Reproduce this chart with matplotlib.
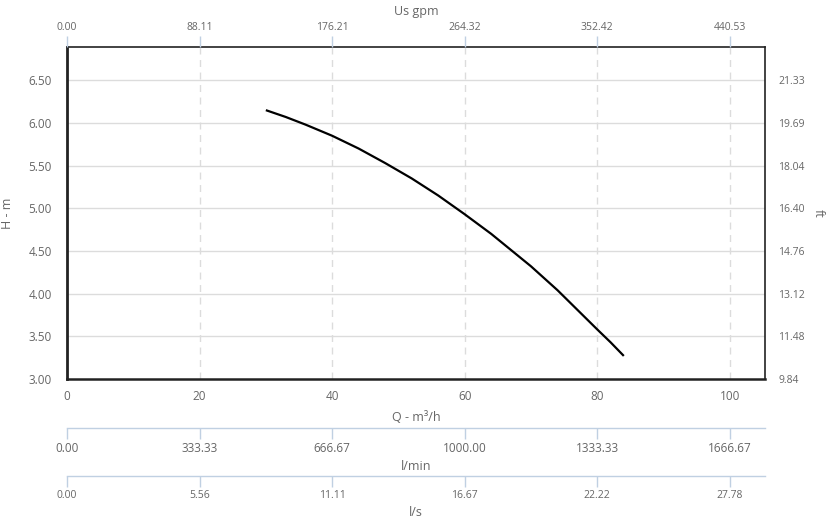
import matplotlib
matplotlib.use("Agg")
import matplotlib.pyplot as plt

# pump curve
flow_m3h = [30, 33, 36, 40, 44, 48, 52, 56, 60, 64, 67, 70, 74, 77, 80, 82, 84]
head_m = [6.15, 6.07, 5.98, 5.85, 5.70, 5.53, 5.35, 5.15, 4.93, 4.70, 4.51,
          4.32, 4.04, 3.81, 3.58, 3.43, 3.27]

x_ticks = [0, 20, 40, 60, 80, 100]
y_ticks = [3.0, 3.5, 4.0, 4.5, 5.0, 5.5, 6.0, 6.5]
gpm_labels = ["0.00", "88.11", "176.21", "264.32", "352.42", "440.53"]
lmin_labels = ["0.00", "333.33", "666.67", "1000.00", "1333.33", "1666.67"]
ls_labels = ["0.00", "5.56", "11.11", "16.67", "22.22", "27.78"]
ft_labels = ["9.84", "11.48", "13.12", "14.76", "16.40", "18.04", "19.69", "21.33"]

plt.rcParams["font.family"] = ["Open Sans", "DejaVu Sans"]
txt = "#666666"
axis_blue = "#c0d0e2"
grid_c = "#dcdcdc"

fig = plt.figure(figsize=(8.29, 5.21), dpi=100)
ax = fig.add_axes([0.0808, 0.2726, 0.8420, 0.6372])

ax.plot(flow_m3h, head_m, color="black", lw=1.6, solid_capstyle="butt",
        solid_joinstyle="round", zorder=3)
ax.set_xlim(0, 105.3)
ax.set_ylim(3.0, 6.89)

ax.set_xticks(x_ticks)
ax.set_yticks(y_ticks)
ax.set_yticklabels([f"{v:.2f}" for v in y_ticks])
ax.tick_params(axis="x", length=0, pad=8, labelsize=8.5, colors=txt)
ax.tick_params(axis="y", length=0, pad=11, labelsize=8.5, colors=txt)
ax.grid(False)
for v in y_ticks[1:]:
    ax.axhline(v, color=grid_c, lw=1, zorder=1)
for v in x_ticks[1:]:
    ax.axvline(v, color=grid_c, lw=1, ls=(0, (5, 4)), zorder=1)

for side, s in ax.spines.items():
    s.set_color("#222222")
    s.set_linewidth(1.2)
ax.spines["left"].set_linewidth(2)
ax.spines["bottom"].set_linewidth(1.8)

ax.set_xlabel("Q - m³/h", fontsize=9, color=txt, labelpad=6)
ax.set_ylabel("H - m", fontsize=9, color=txt)
ax.yaxis.set_label_coords(-0.076, 0.5)

# top: US gpm
top = ax.twiny()
top.set_xlim(ax.get_xlim())
top.set_xticks(x_ticks)
top.set_xticklabels(gpm_labels)
top.tick_params(axis="x", length=8, width=1, color=axis_blue, pad=2, labelsize=7.5, colors=txt)
top.tick_params(axis="x", color=axis_blue)
top.set_xlabel("Us gpm", fontsize=9, color=txt, labelpad=5)
for s in top.spines.values():
    s.set_visible(False)

# right: ft
right = ax.twinx()
right.set_ylim(ax.get_ylim())
right.set_yticks(y_ticks)
right.set_yticklabels(ft_labels)
right.tick_params(axis="y", length=0, pad=9.5, labelsize=7.5, colors=txt)
right.set_ylabel("ft", fontsize=9, color=txt, rotation=270, va="center")
right.yaxis.set_label_coords(1.076, 0.5)
for s in right.spines.values():
    s.set_visible(False)

# extra bottom axes: l/min and l/s
def extra_axis(offset, labels, title, lsize):
    sec = ax.secondary_xaxis(offset)
    sec.set_xticks(x_ticks)
    sec.set_xticklabels(labels)
    sec.tick_params(axis="x", length=8, width=1, color=axis_blue, pad=2, labelsize=lsize, colors=txt)
    sec.tick_params(axis="x", color=axis_blue)
    sec.spines["bottom"].set_color(axis_blue)
    sec.spines["bottom"].set_linewidth(1)
    sec.set_xlabel(title, fontsize=9, color=txt, labelpad=4)
    return sec

extra_axis(-0.1476, lmin_labels, "l/min", 8.5)
extra_axis(-0.292, ls_labels, "l/s", 7.5)

fig.savefig("out.png", dpi=100)
